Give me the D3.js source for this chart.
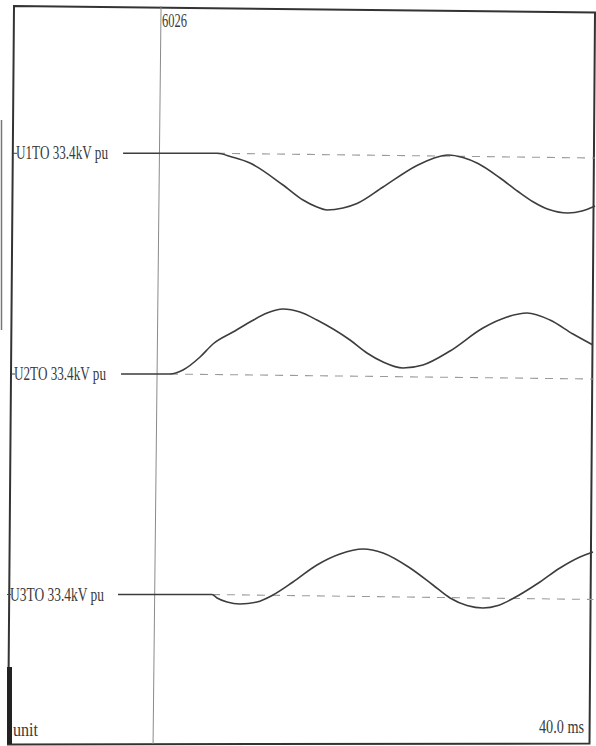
<!DOCTYPE html>
<html>
<head>
<meta charset="utf-8">
<script src="https://cdn.jsdelivr.net/npm/d3@7"></script>
<style>
  html, body { margin: 0; padding: 0; background: #fff; }
  svg { display: block; }
  text { font-family: "Liberation Serif", "DejaVu Serif", serif; fill: #3a3a3a; }
</style>
</head>
<body>
<svg id="chart" width="596" height="746"></svg>
<script>
// ---- data (time in ms, value = deviation in pu from pre-event level) ----
const channelNames = ["U1TO 33.4kV pu", "U2TO 33.4kV pu", "U3TO 33.4kV pu"];

const timeU1 = [7.66, 12.97, 14.14, 15.17, 16.41, 18.69, 20.07, 21.03, 21.72, 22.83, 23.79, 25.59, 27.93, 29.03, 30.07, 31.10, 32.14, 33.66, 34.90, 35.93, 37.03, 38.34, 39.31, 40.21];
const valueU1 = [0, 0, 0, -0.037, -0.097, -0.317, -0.467, -0.537, -0.567, -0.547, -0.502, -0.337, -0.122, -0.052, -0.017, -0.042, -0.102, -0.247, -0.382, -0.484, -0.562, -0.597, -0.577, -0.527];

const timeU2 = [7.52, 10.21, 10.90, 11.79, 12.97, 13.86, 15.24, 16.41, 17.59, 18.69, 19.86, 21.03, 23.31, 24.48, 25.59, 26.97, 28.34, 30.21, 32.48, 34.14, 35.52, 37.10, 38.69, 40.07];
const valueU2 = [0, 0, 0, 0.04, 0.17, 0.30, 0.42, 0.52, 0.61, 0.65, 0.62, 0.54, 0.34, 0.21, 0.12, 0.06, 0.09, 0.23, 0.46, 0.57, 0.61, 0.54, 0.40, 0.29];

const timeU3 = [7.31, 12.97, 13.79, 14.14, 14.83, 15.72, 16.90, 18.00, 19.38, 21.03, 22.62, 24.21, 25.59, 27.45, 29.03, 30.21, 31.38, 32.48, 33.52, 34.55, 36.41, 37.79, 39.17, 40.07];
const valueU3 = [0, 0, 0, -0.035, -0.075, -0.095, -0.075, -0.005, 0.125, 0.295, 0.405, 0.455, 0.415, 0.265, 0.095, -0.035, -0.11, -0.135, -0.11, -0.04, 0.125, 0.265, 0.375, 0.425];

// dashed reference (pre-event level) per channel
const refStartTime = [14.14, 10.90, 13.79];
const refEndTime = [40.2, 40.1, 40.1];
const refStartValue = [0, 0, 0];
const refEndValue = [-0.047, -0.05, -0.05];

const cursorLabel = "6026";
const cursorTime = 10.28;
const spanLabel = "40.0 ms";
const unitLabel = "unit";
const timeDomain = [0, 40];

// ---- layout ----
const svg = d3.select("#chart");
const x = d3.scaleLinear().domain(timeDomain).range([12, 592]);
const baselines = [153.3, 374, 594.5];
const labelX = [16, 14, 10];
const labelBase = [159, 380, 600.5];
const labelLen = [92, 92, 94];
const yScales = baselines.map(b => d3.scaleLinear().domain([-1, 1]).range([b + 100, b - 100]));
const FS = 19;

// frame (slightly keystoned as in the scan)
const frame = [[14, 6], [595, 12.5], [589.5, 743.5], [8, 744.5]];
svg.append("path")
  .attr("d", d3.line()(frame) + "Z")
  .attr("fill", "none").attr("stroke", "#333").attr("stroke-width", 2);

// thin scan mark at far left
svg.append("line").attr("x1", 1.5).attr("x2", 1.5).attr("y1", 120).attr("y2", 330)
  .attr("stroke", "#555").attr("stroke-width", 1.5).attr("opacity", 0.8);

// bottom-left black bar
svg.append("rect").attr("x", 7).attr("y", 667).attr("width", 5).attr("height", 77).attr("fill", "#222");

// cursor line
svg.append("line")
  .attr("x1", x(cursorTime)).attr("y1", 6)
  .attr("x2", x(cursorTime) - 8).attr("y2", 744)
  .attr("stroke", "#8a8a8a").attr("stroke-width", 1);

svg.append("text").attr("x", x(cursorTime) + 1).attr("y", 27)
  .attr("font-size", FS).attr("textLength", 25).attr("lengthAdjust", "spacingAndGlyphs")
  .text(cursorLabel);

const series = [
  { t: timeU1, v: valueU1 },
  { t: timeU2, v: valueU2 },
  { t: timeU3, v: valueU3 }
];

series.forEach((s, i) => {
  const y = yScales[i];
  // dashed reference
  svg.append("line")
    .attr("x1", x(refStartTime[i])).attr("y1", y(refStartValue[i]))
    .attr("x2", x(refEndTime[i])).attr("y2", y(refEndValue[i]))
    .attr("stroke", "#9a9a9a").attr("stroke-width", 1.1)
    .attr("stroke-dasharray", "8,7");
  // waveform
  const pts = s.t.map((t, k) => [t, s.v[k]]);
  svg.append("path")
    .datum(pts)
    .attr("d", d3.line().x(d => x(d[0])).y(d => y(d[1])).curve(d3.curveMonotoneX))
    .attr("fill", "none").attr("stroke", "#3d3d3d").attr("stroke-width", 1.6);
  // channel tick and label
  svg.append("line")
    .attr("x1", labelX[i] - 3).attr("x2", labelX[i] + 1)
    .attr("y1", baselines[i]).attr("y2", baselines[i])
    .attr("stroke", "#444").attr("stroke-width", 1);
  svg.append("text").attr("x", labelX[i]).attr("y", labelBase[i])
    .attr("font-size", FS).attr("textLength", labelLen[i]).attr("lengthAdjust", "spacingAndGlyphs")
    .text(channelNames[i]);
});

svg.append("text").attr("x", 13).attr("y", 736)
  .attr("font-size", FS).attr("textLength", 25).attr("lengthAdjust", "spacingAndGlyphs")
  .text(unitLabel);
svg.append("text").attr("x", 539).attr("y", 733)
  .attr("font-size", FS).attr("textLength", 45).attr("lengthAdjust", "spacingAndGlyphs")
  .text(spanLabel);
</script>
</body>
</html>
